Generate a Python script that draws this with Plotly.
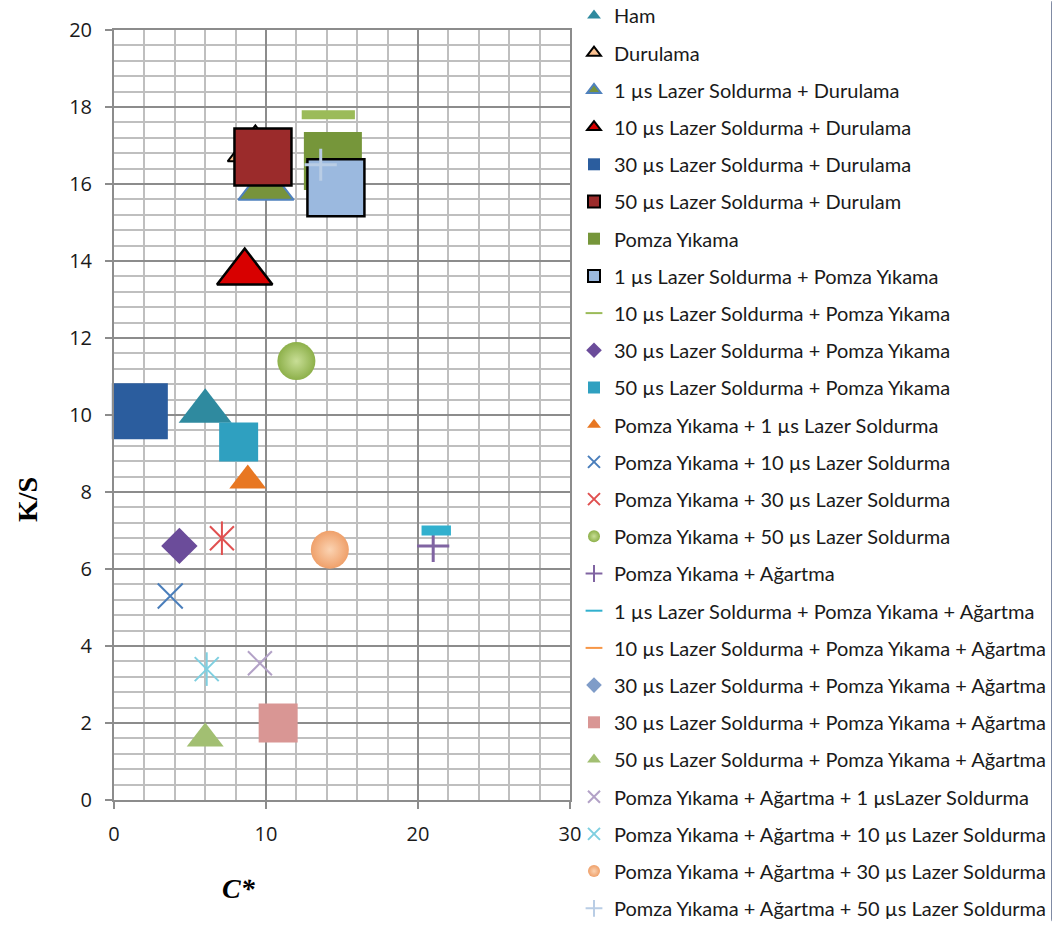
import plotly.graph_objects as go

# Series names (legend order = drawing order)
names = [
    "Ham",
    "Durulama",
    "1 µs Lazer Soldurma + Durulama",
    "10 µs Lazer Soldurma + Durulama",
    "30 µs Lazer Soldurma + Durulama",
    "50 µs Lazer Soldurma + Durulam",
    "Pomza Yıkama",
    "1 µs Lazer Soldurma + Pomza Yıkama",
    "10 µs Lazer Soldurma + Pomza Yıkama",
    "30 µs Lazer Soldurma + Pomza Yıkama",
    "50 µs Lazer Soldurma + Pomza Yıkama",
    "Pomza Yıkama + 1 µs Lazer Soldurma",
    "Pomza Yıkama + 10 µs Lazer Soldurma",
    "Pomza Yıkama + 30 µs Lazer Soldurma",
    "Pomza Yıkama + 50 µs Lazer Soldurma",
    "Pomza Yıkama + Ağartma",
    "1 µs Lazer Soldurma + Pomza Yıkama + Ağartma",
    "10 µs Lazer Soldurma + Pomza Yıkama + Ağartma",
    "30 µs Lazer Soldurma + Pomza Yıkama + Ağartma",
    "30 µs Lazer Soldurma + Pomza Yıkama + Ağartma",
    "50 µs Lazer Soldurma + Pomza Yıkama + Ağartma",
    "Pomza Yıkama + Ağartma + 1 µsLazer Soldurma",
    "Pomza Yıkama + Ağartma + 10 µs Lazer Soldurma",
    "Pomza Yıkama + Ağartma + 30 µs Lazer Soldurma",
    "Pomza Yıkama + Ağartma + 50 µs Lazer Soldurma",
]

# C* values (x) and K/S values (y); None = no plotted point
c_star = [6.0, 9.3, 10.0, 8.6, 1.7, 9.8, 14.4, 14.6, 14.1, 4.3, 8.2, 8.8, 3.7,
          7.1, 12.0, 21.0, 21.2, None, None, 10.8, 6.0, 9.6, 6.1, 14.2, 13.6]
k_s = [10.1, 16.9, 15.9, 13.7, 10.1, 16.7, 16.6, 15.9, 17.8, 6.6, 9.3, 8.3, 5.3,
       6.8, 11.4, 6.6, 7.0, None, None, 2.0, 1.6, 3.55, 3.4, 6.5, 16.5]

# Marker styling per series
symbols = ["triangle-up", "triangle-up", "triangle-up", "triangle-up", "square",
           "square", "square", "square", "line-ew", "diamond", "square",
           "triangle-up", "x-thin-open", "x-thin-open", "circle", "cross-thin-open",
           "line-ew", "line-ew", "diamond", "square", "triangle-up", "x-thin-open",
           "x-thin-open", "circle", "cross-thin-open"]
colors = ["#2F8A9F", "#FAC090", "#77933C", "#D80000", "#2B5D9E", "#9B2B2B",
          "#76963A", "#9BB9DF", "#9BBB59", "#6B4C9A", "#2FA0C0", "#E87722",
          "#4A7EBB", "#E05050", "#8DB04A", "#8064A2", "#31B0CE", "#F79646",
          "#7F9CC8", "#D99694", "#A2BF72", "#B3A2C7", "#7FCFE0", "#EFA06A",
          "#B9CDE5"]
line_colors = ["#2F8A9F", "#000000", "#4F81BD", "#000000", "#2B5D9E", "#000000",
               "#76963A", "#000000", "#9BBB59", "#6B4C9A", "#2FA0C0", "#E87722",
               "#4A7EBB", "#E05050", "#8DB04A", "#8064A2", "#31B0CE", "#F79646",
               "#7F9CC8", "#D99694", "#A2BF72", "#B3A2C7", "#7FCFE0", "#EFA06A",
               "#B9CDE5"]
sizes = [46, 48, 48, 48, 56, 57, 58, 57, 38, 28, 39, 32, 25, 24, 38, 23, 21, 21,
         28, 39, 32, 24, 24, 38, 23]
line_widths = [0, 2, 2, 2.5, 0, 2.5, 0, 2.5, 9, 0, 0, 0, 2, 2, 0, 3, 10, 9, 0,
               0, 0, 2, 2, 0, 3]
# asterisk-style markers get an extra vertical stroke
asterisk = {13, 22}
# sphere-like markers: highlight colour at the centre
sphere_light = {14: "#C8DE96", 23: "#FBD3B2"}

fig = go.Figure()
for i, name in enumerate(names):
    marker = dict(symbol=symbols[i], size=sizes[i], color=colors[i],
                  line=dict(color=line_colors[i], width=line_widths[i]))
    if i in sphere_light:
        marker["gradient"] = dict(type="radial", color=sphere_light[i])
    fig.add_trace(go.Scatter(
        x=[c_star[i]], y=[k_s[i]], mode="markers", name=name,
        legendgroup=f"g{i}", marker=marker, cliponaxis=False))
    if i in asterisk:
        fig.add_trace(go.Scatter(
            x=[c_star[i]], y=[k_s[i]], mode="markers", showlegend=False,
            legendgroup=f"g{i}", cliponaxis=False,
            marker=dict(symbol="line-ns-open", size=sizes[i], color=colors[i],
                        line=dict(color=colors[i], width=line_widths[i]))))

axis_common = dict(
    showline=True, linecolor="#8C8C8C", linewidth=2, mirror=True,
    showgrid=True, gridcolor="#8C8C8C", gridwidth=2,
    ticks="outside", tickcolor="#8C8C8C", tickwidth=2,
    zeroline=False,
    tickfont=dict(family="Open Sans", size=20, color="#1a1a1a"),
)

fig.update_xaxes(range=[0, 30], tick0=0, dtick=10, ticklen=7,
                 ticklabelstandoff=8,
                 minor=dict(dtick=2, showgrid=True, gridcolor="#BFBFBF",
                            gridwidth=2),
                 **axis_common)
fig.update_yaxes(range=[0, 20], tick0=0, dtick=2, ticklen=7,
                 ticklabelstandoff=9,
                 minor=dict(dtick=0.4, showgrid=True, gridcolor="#BFBFBF",
                            gridwidth=2),
                 **axis_common)

fig.add_annotation(text="<b><i>C*</i></b>", xref="paper", yref="paper",
                   x=(239 - 114) / (570 - 114), y=-(888 - 800) / 770,
                   xanchor="center", yanchor="middle", showarrow=False,
                   font=dict(family="Liberation Serif", size=28, color="#000"))
fig.add_annotation(text="<b>K/S</b>", xref="paper", yref="paper",
                   x=-(114 - 27) / (570 - 114), y=(800 - 500) / 770,
                   xanchor="center", yanchor="middle",
                   textangle=-90, showarrow=False,
                   font=dict(family="Liberation Serif", size=28, color="#000"))

fig.update_layout(
    width=1052, height=927,
    margin=dict(l=114, r=482, t=30, b=127, autoexpand=False),
    paper_bgcolor="white", plot_bgcolor="white",
    legend=dict(xref="container", yref="paper", x=574 / 1052, y=1 + 34 / 770,
                xanchor="left", yanchor="top", tracegroupgap=8.2,
                itemsizing="constant", maxheight=1,
                font=dict(family="Lato", size=20, color="#1a1a1a"),
                bgcolor="rgba(0,0,0,0)"),
)

fig.write_html("out.html")
